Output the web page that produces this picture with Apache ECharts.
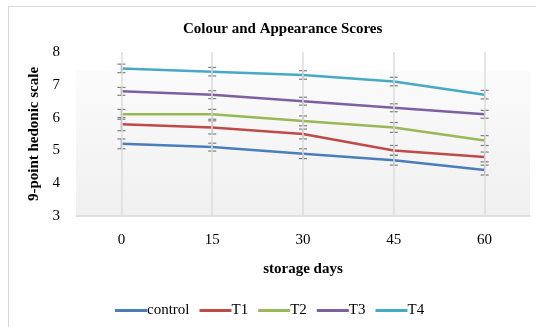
<!DOCTYPE html>
<html>
<head>
<meta charset="utf-8">
<script src="https://cdn.jsdelivr.net/npm/echarts@6/dist/echarts.min.js"></script>
<style>
  html, body { margin: 0; padding: 0; background: #fff; }
  #chart { width: 536px; height: 327px; }
  #frame { position: absolute; left: 8px; top: 6px; right: -2px; bottom: -2px; border: 1px solid #d9d9d9; pointer-events: none; }
</style>
</head>
<body>
<div id="chart"></div>
<div id="frame"></div>
<script>
// Storage days (x categories)
const days = ['0', '15', '30', '45', '60'];

// Mean colour & appearance scores per treatment
const control = [5.2, 5.1, 4.9, 4.7, 4.4];
const t1 = [5.8, 5.7, 5.5, 5.0, 4.8];
const t2 = [6.1, 6.1, 5.9, 5.7, 5.3];
const t3 = [6.8, 6.7, 6.5, 6.3, 6.1];
const t4 = [7.5, 7.4, 7.3, 7.1, 6.7];

// Standard error (± around each mean)
const errControl = [0.15, 0.12, 0.15, 0.15, 0.15];
const errT1 = [0.2, 0.2, 0.15, 0.15, 0.15];
const errT2 = [0.15, 0.15, 0.15, 0.15, 0.15];
const errT3 = [0.12, 0.12, 0.12, 0.12, 0.12];
const errT4 = [0.13, 0.13, 0.13, 0.13, 0.13];

const yTicks = [3, 4, 5, 6, 7, 8];

const names = ['control', 'T1', 'T2', 'T3', 'T4'];
const colors = ['#4A7EBB', '#BE4B48', '#98B954', '#7D60A0', '#46AAC5'];
const values = [control, t1, t2, t3, t4];
const errors = [errControl, errT1, errT2, errT3, errT4];

const serif = '"Liberation Serif", "Times New Roman", serif';

const chart = echarts.init(document.getElementById('chart'));

const lineSeries = names.map((n, i) => ({
  name: n,
  type: 'line',
  data: values[i],
  symbol: 'none',
  lineStyle: { width: 2.5, color: colors[i] },
  itemStyle: { color: colors[i] },
  z: 3,
  markLine: i === 0 ? {
    silent: true,
    symbol: 'none',
    label: { show: false },
    lineStyle: { color: '#dcdcdc', width: 1.5, type: 'solid' },
    data: days.map(d => ({ xAxis: d }))
  } : undefined
}));

// Error bars drawn through the axis scales
const errorSeries = names.map((n, i) => ({
  type: 'custom',
  name: n + '-err',
  z: 4,
  silent: true,
  data: values[i].map((v, k) => [k, v - errors[i][k], v + errors[i][k]]),
  renderItem: function (params, api) {
    const lo = api.coord([api.value(0), api.value(1)]);
    const hi = api.coord([api.value(0), api.value(2)]);
    const w = 4;
    const style = { stroke: '#7f7f7f', lineWidth: 1.2 };
    return {
      type: 'group',
      children: [
        { type: 'line', shape: { x1: hi[0], y1: hi[1], x2: lo[0], y2: lo[1] }, style: style },
        { type: 'line', shape: { x1: hi[0] - w, y1: hi[1], x2: hi[0] + w, y2: hi[1] }, style: style },
        { type: 'line', shape: { x1: lo[0] - w, y1: lo[1], x2: lo[0] + w, y2: lo[1] }, style: style }
      ]
    };
  }
}));

chart.setOption({
  animation: false,
  title: {
    text: 'Colour and Appearance Scores',
    left: 178,
    top: 17,
    textStyle: { fontFamily: serif, fontWeight: 'bold', fontSize: 15, color: '#000' }
  },
  legend: {
    data: names,
    left: 110,
    top: 298,
    icon: 'rect',
    itemWidth: 32,
    itemHeight: 3,
    itemGap: 10,
    textStyle: { fontFamily: serif, fontSize: 15, color: '#000', padding: [0, 0, 0, -5] }
  },
  grid: {
    left: 76,
    right: 6,
    top: 52,
    bottom: 111,
    show: true,
    borderWidth: 0,
    backgroundColor: {
      type: 'linear', x: 0, y: 0, x2: 0, y2: 1,
      colorStops: [
        { offset: 0, color: '#ffffff' },
        { offset: 0.11, color: '#ffffff' },
        { offset: 0.12, color: '#fbfbfb' },
        { offset: 1, color: '#f0f0f0' }
      ]
    }
  },
  xAxis: {
    type: 'category',
    data: days,
    boundaryGap: true,
    name: 'storage days',
    nameLocation: 'middle',
    nameGap: 46,
    nameTextStyle: { fontFamily: serif, fontWeight: 'bold', fontSize: 15, color: '#000' },
    axisLine: { lineStyle: { color: '#d9d9d9', width: 1.5 } },
    axisTick: { show: false },
    axisLabel: { fontFamily: serif, fontSize: 15, color: '#000', margin: 17 },
    splitLine: { show: false }
  },
  yAxis: {
    type: 'value',
    min: yTicks[0],
    max: yTicks[yTicks.length - 1],
    interval: 1,
    name: '9-point hedonic scale',
    nameLocation: 'middle',
    nameRotate: 90,
    nameGap: 32,
    nameTextStyle: { fontFamily: serif, fontWeight: 'bold', fontSize: 15, color: '#000' },
    axisLine: { show: false },
    axisTick: { show: false },
    splitLine: { show: false },
    axisLabel: { fontFamily: serif, fontSize: 15, color: '#000', margin: 16 }
  },
  series: lineSeries.concat(errorSeries)
});
</script>
</body>
</html>
